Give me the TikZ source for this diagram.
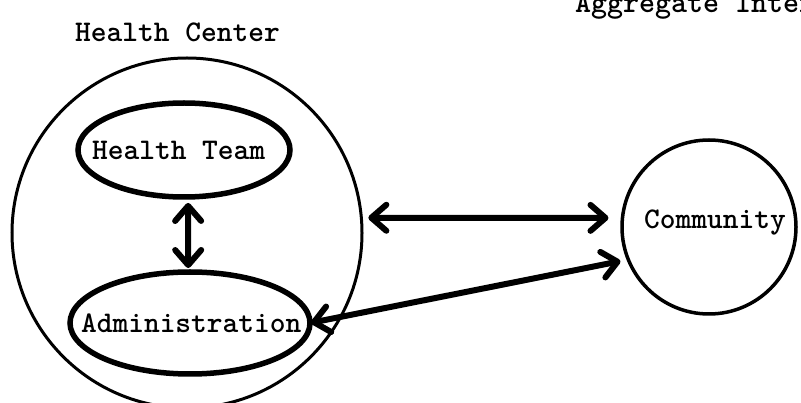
\documentclass[tikz,border=0pt]{standalone}
\usetikzlibrary{arrows.meta,shapes.geometric}
\begin{document}
\begin{tikzpicture}[x=1pt,y=-1pt,
  typed/.style={font=\fontsize{30}{30}\selectfont\ttfamily\bfseries, inner sep=0pt, outer sep=0pt, anchor=base west},
  ring/.style={circle, draw, line width=3pt, inner sep=0pt, outer sep=0pt},
  oval/.style={ellipse, draw, line width=5.5pt, inner sep=0pt, outer sep=0pt},
  barb/.tip={Straight Barb[length=15pt,width=26pt,round]},
  link/.style={line width=6pt, line cap=round, {barb}-{barb}}]
\useasboundingbox (0,0) rectangle (801,403);
\clip (0,0) rectangle (801,403);

% circles and ovals
\node[ring, minimum size=350] (hc) at (187,233) {};
\node[oval, minimum width=212, minimum height=94] (ht) at (184,150) {};
\node[oval, minimum width=240, minimum height=102] (adm) at (190,323) {};
\node[ring, line width=3.5pt, minimum size=174] (com) at (709,227) {};

% typed labels
\node[typed] (hclabel) at (75,42) {Health Center};
\node[typed, font=\fontsize{30.5}{30}\selectfont\ttfamily\bfseries] (aglabel) at (575,13) {Aggregate Inter};
\node[typed] (htlabel) at (92,160) {Health Team};
\node[typed] (admlabel) at (81,333) {Administration};
\node[typed] (comlabel) at (644,229) {Community};

% two-way links
\draw[link, shorten <=6pt, shorten >=4pt] (ht.-85) -- (adm.92);
\draw[link, shorten <=7pt, shorten >=14pt] (hc.5) -- (com.174);
\draw[link, shorten <=1pt, shorten >=8pt] (adm.east) -- (com.202);
\end{tikzpicture}
\end{document}
